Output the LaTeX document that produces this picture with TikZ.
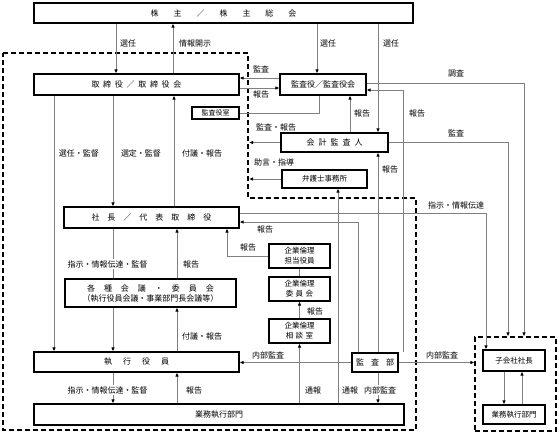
\documentclass[tikz,border=0pt]{standalone}
\usepackage{fontspec}
\usetikzlibrary{arrows.meta}
\newfontfamily\jp{Noto Sans CJK JP}
\newcommand\spread[2]{\def\spgap{#1}\spreadfirst#2\relax}
\def\spreadfirst#1{#1\spreadnext}
\def\spreadnext#1{\ifx\relax#1\else\hspace{\spgap}#1\expandafter\spreadnext\fi}
\tikzset{
  box/.style={draw, line width=1.1pt, fill=white, inner sep=0pt, align=center,
              font=\jp\fontsize{8}{10}\selectfont},
  sbox/.style={box, font=\jp\fontsize{7.5}{10}\selectfont},
  grp/.style={draw, line width=1.1pt, dash pattern=on 5pt off 3pt},
  ln/.style={draw=gray, line width=0.8pt},
  arr/.style={ln, -{Latex[length=4pt,width=3.5pt,color=black]}},
  lab/.style={inner sep=1pt, font=\jp\fontsize{8}{10}\selectfont},
  labw/.style={lab, fill=white},
}
\begin{document}
\begin{tikzpicture}[x=1pt, y=-1pt]
\useasboundingbox (0,0) rectangle (558,434);
\draw[grp] (3,53) -- (248,53) -- (248,198) -- (416,198) -- (416,430) -- (3,430) -- cycle;

\node[box, minimum width=379pt, minimum height=20pt] (sh) at (223.5,13) {\spread{15pt}{株主／株主総会}};
\node[box, minimum width=205pt, minimum height=21pt] (tr) at (136.5,84.5) {\spread{3.7pt}{取締役／取締役会}};
\node[box, minimum width=86pt, minimum height=21pt] (ka) at (323,84.5) {監査役／監査役会};
\node[box, font=\jp\fontsize{7}{8}\selectfont, minimum width=47pt, minimum height=12pt] (ks) at (215.5,113) {監査役室};
\node[box, minimum width=107pt, minimum height=19pt] (kk) at (334.5,142.5) {\spread{4pt}{会計監査人}};
\node[sbox, minimum width=85pt, minimum height=18pt] (bg) at (324.5,179) {弁護士事務所};
\node[box, minimum width=175pt, minimum height=21pt] (sc) at (151.5,217.5) {\spread{8pt}{社長／代表取締役}};
\node[box, minimum width=171pt, minimum height=28pt] (kg) at (150.5,293) {\spread{9pt}{各種会議・委員会}\\（執行役員会議・事業部門長会議等）};
\node[sbox, minimum width=61pt, minimum height=24pt] (rt) at (299.5,256) {企業倫理\\担当役員};
\node[sbox, minimum width=61pt, minimum height=24pt] (ri) at (299.5,289) {企業倫理\\\spread{2.5pt}{委員会}};
\node[sbox, minimum width=61pt, minimum height=24pt] (rs) at (299.5,331) {企業倫理\\\spread{2.5pt}{相談室}};
\node[box, minimum width=205pt, minimum height=20pt] (sy) at (136.5,362) {\spread{11pt}{執行役員}};
\node[box, minimum width=370pt, minimum height=21pt] (gm) at (219,414.5) {業務執行部門};
\node[box, minimum width=46pt, minimum height=19pt] (kb) at (375,362.5) {\spread{7pt}{監査部}};
\node[grp, minimum width=81pt, minimum height=94pt] (grp) at (515.5,384) {};
\node[sbox, minimum width=62pt, minimum height=21pt] (ko) at (514,360.5) {子会社社長};
\node[sbox, minimum width=62pt, minimum height=19pt] (kg2) at (514,414.5) {業務執行部門};

\draw[arr] (116,0 |- sh.south) -- (116,0 |- tr.north);
\draw[arr] (173,0 |- tr.north) -- (173,0 |- sh.south);
\draw[arr] (317,0 |- sh.south) -- (317,0 |- ka.north);
\draw[arr] (378,0 |- sh.south) -- (378,0 |- kk.north);
\draw[arr] (ka.west |- 0,78) -- (tr.east |- 0,78);
\draw[arr] (tr.east |- 0,88) -- (ka.west |- 0,88);
\draw[ln] (ks.east) -| (319,0 |- ka.south);
\draw[arr] (350,0 |- kk.north) -- (350,0 |- ka.south);
\draw[arr] (kk.west) -- (249,0 |- kk.west);
\draw[arr] (bg.west) -- (249,0 |- bg.west);
\draw[arr] (ka.east |- 0,83) -| (524,0 |- grp.north);
\draw[arr] (kk.east) -| (508,0 |- grp.north);
\draw[arr] (sc.east |- 0,213) -| (486,0 |- ko.north);
\draw[arr] (403,0 |- kb.north) |- (ka.east |- 0,90);
\draw[arr] (378,0 |- kb.north) -- (378,0 |- kk.south);
\draw[arr] (358,0 |- kb.north) |- (sc.east |- 0,222);
\draw[arr] (kb.west) -- (sy.east |- kb.west);
\draw[arr] (kb.east) -- (grp.west |- kb.east);
\draw[arr] (378,0 |- kb.south) -- (378,0 |- gm.north);
\draw[arr] (rs.south |- gm.north) -- (rs.south);
\draw[arr] (338,0 |- gm.north) -- (338,0 |- bg.south);
\draw[arr] (rs.north) -- (ri.south);
\draw[ln] (ri.north) -- (rt.south);
\draw[arr] (rt.west) -| (227,0 |- sc.south);
\draw[arr] (54,0 |- tr.south) -- (54,0 |- sy.north);
\draw[arr] (113,0 |- tr.south) -- (113,0 |- sc.north);
\draw[arr] (174,0 |- sc.north) -- (174,0 |- tr.south);
\draw[ln] (113,0 |- sc.south) -- (113,0 |- kg.north);
\draw[arr] (113,0 |- kg.south) -- (113,0 |- sy.north);
\draw[arr] (177,0 |- kg.north) -- (177,0 |- sc.south);
\draw[arr] (177,0 |- sy.north) -- (177,0 |- kg.south);
\draw[arr] (113,0 |- sy.south) -- (113,0 |- gm.north);
\draw[arr] (177,0 |- gm.north) -- (177,0 |- sy.south);
\draw[arr] (504,0 |- ko.south) -- (504,0 |- kg2.north);
\draw[arr] (522,0 |- kg2.north) -- (522,0 |- ko.south);

\node[lab, anchor=west] (l1) at (119,43) {選任};
\node[lab, anchor=west] (l2) at (178,43) {情報開示};
\node[lab, anchor=west] (l3) at (319,43) {選任};
\node[lab, anchor=west] (l4) at (382,43) {選任};
\node[lab] (l5) at (261,69) {監査};
\node[lab] (l6) at (261,94) {報告};
\node[lab] (l7) at (456,73) {調査};
\node[lab] (l8) at (362,113) {報告};
\node[lab] (l9) at (417,113) {報告};
\node[lab] (l10) at (276,127) {監査・報告};
\node[lab] (l11) at (456,133) {監査};
\node[lab] (l12) at (274,162) {助言・指導};
\node[lab] (l13) at (390,169) {報告};
\node[lab] (l14) at (79,153) {選任・監督};
\node[lab] (l15) at (141,153) {選定・監督};
\node[lab] (l16) at (202,153) {付議・報告};
\node[lab] (l17) at (456,205) {指示・情報伝達};
\node[lab] (l18) at (265,229) {報告};
\node[lab] (l19) at (248,247) {報告};
\node[labw] (l20) at (107.5,264) {指示・情報伝達・監督};
\node[lab] (l21) at (191,264) {報告};
\node[lab] (l22) at (315,311) {報告};
\node[lab] (l23) at (202,336) {付議・報告};
\node[lab] (l24) at (268,355) {内部監査};
\node[lab] (l25) at (442,355) {内部監査};
\node[labw] (l26) at (107.5,390) {指示・情報伝達・監督};
\node[lab] (l27) at (194,390) {報告};
\node[lab] (l28) at (313,390) {通報};
\node[lab] (l29) at (350,390) {通報};
\node[labw] (l30) at (380,390) {内部監査};
\end{tikzpicture}
\end{document}
